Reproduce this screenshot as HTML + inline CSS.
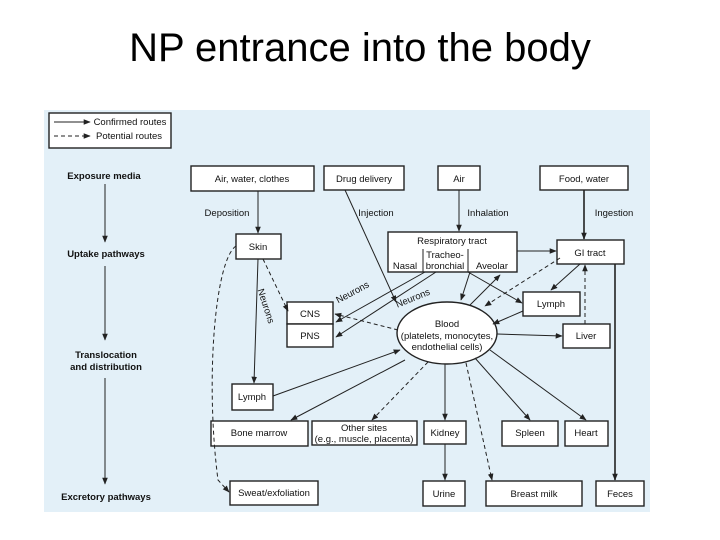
<!DOCTYPE html>
<html><head><meta charset="utf-8"><style>
html,body{margin:0;padding:0;background:#fff;}
svg{display:block;}
text{font-family:"Liberation Sans",sans-serif;}
</style></head><body>
<svg width="720" height="540" viewBox="0 0 720 540" xmlns="http://www.w3.org/2000/svg">
<defs>
<marker id="a" viewBox="0 0 10 10" refX="9" refY="5" markerWidth="7" markerHeight="7" orient="auto-start-reverse" markerUnits="userSpaceOnUse"><path d="M0,1 L10,5 L0,9 z" fill="#222"/></marker>
</defs>
<text x="360" y="61" font-size="40" text-anchor="middle" fill="#000">NP entrance into the body</text>
<rect x="44" y="110" width="606" height="402" fill="#e3f0f8"/>
<g font-size="9.5" fill="#111" text-anchor="middle" font-weight="bold">
<rect x="49" y="113" width="122" height="35" fill="#fff" stroke="#222" stroke-width="1.4"/>
<line x1="54" y1="122" x2="90" y2="122" stroke="#222" marker-end="url(#a)"/>
<line x1="54" y1="136" x2="90" y2="136" stroke="#222" stroke-dasharray="4,3" marker-end="url(#a)"/>
<text x="130" y="125" font-weight="normal">Confirmed routes</text>
<text x="129" y="139" font-weight="normal">Potential routes</text>
<text x="104" y="179" text-anchor="middle">Exposure media</text>
<line x1="105" y1="184" x2="105" y2="242" stroke="#222" marker-end="url(#a)"/>
<text x="106" y="257">Uptake pathways</text>
<line x1="105" y1="266" x2="105" y2="340" stroke="#222" marker-end="url(#a)"/>
<text x="106" y="358">Translocation</text>
<text x="106" y="370">and distribution</text>
<line x1="105" y1="378" x2="105" y2="484" stroke="#222" marker-end="url(#a)"/>
<text x="106" y="500">Excretory pathways</text>
<g fill="#fff" stroke="#222" stroke-width="1.4">
<rect x="191" y="166" width="123" height="25"/>
<rect x="324" y="166" width="80" height="24"/>
<rect x="438" y="166" width="42" height="24"/>
<rect x="540" y="166" width="88" height="24"/>
<rect x="236" y="234" width="45" height="25"/>
<rect x="388" y="232" width="129" height="40"/>
<rect x="557" y="240" width="67" height="24"/>
<rect x="523" y="292" width="57" height="24"/>
<rect x="563" y="324" width="47" height="24"/>
<rect x="287" y="302" width="46" height="22"/>
<rect x="287" y="324" width="46" height="23"/>
<ellipse cx="447" cy="333" rx="50" ry="31"/>
<rect x="232" y="384" width="41" height="26"/>
<rect x="211" y="421" width="97" height="25"/>
<rect x="312" y="421" width="105" height="24"/>
<rect x="424" y="421" width="42" height="23"/>
<rect x="502" y="421" width="56" height="25"/>
<rect x="565" y="421" width="43" height="25"/>
<rect x="230" y="481" width="88" height="24"/>
<rect x="423" y="481" width="42" height="25"/>
<rect x="486" y="481" width="96" height="25"/>
<rect x="596" y="481" width="48" height="25"/>
</g>
<line x1="423" y1="249" x2="423" y2="272" stroke="#222"/>
<line x1="468" y1="249" x2="468" y2="272" stroke="#222"/>
<g font-weight="normal">
<text x="252" y="182">Air, water, clothes</text>
<text x="364" y="182">Drug delivery</text>
<text x="459" y="182">Air</text>
<text x="584" y="182">Food, water</text>
<text x="258" y="250">Skin</text>
<text x="452" y="244">Respiratory tract</text>
<text x="405" y="269">Nasal</text>
<text x="445" y="258">Tracheo-</text>
<text x="445" y="269">bronchial</text>
<text x="492" y="269">Aveolar</text>
<text x="590" y="256">GI tract</text>
<text x="551" y="307">Lymph</text>
<text x="586" y="339">Liver</text>
<text x="310" y="317">CNS</text>
<text x="310" y="339">PNS</text>
<text x="447" y="327">Blood</text>
<text x="447" y="339">(platelets, monocytes,</text>
<text x="447" y="350">endothelial cells)</text>
<text x="252" y="400">Lymph</text>
<text x="259" y="436">Bone marrow</text>
<text x="364" y="431">Other sites</text>
<text x="364" y="442">(e.g., muscle, placenta)</text>
<text x="445" y="436">Kidney</text>
<text x="530" y="436">Spleen</text>
<text x="586" y="436">Heart</text>
<text x="274" y="496">Sweat/exfoliation</text>
<text x="444" y="497">Urine</text>
<text x="534" y="497">Breast milk</text>
<text x="620" y="497">Feces</text>
<text x="227" y="216">Deposition</text>
<text x="376" y="216">Injection</text>
<text x="488" y="216">Inhalation</text>
<text x="614" y="216">Ingestion</text>
<text x="0" y="0" transform="translate(354,295) rotate(-28)">Neurons</text>
<text x="0" y="0" transform="translate(414,301) rotate(-22)">Neurons</text>
<text x="0" y="0" transform="translate(263,307) rotate(72)">Neurons</text>
</g>
</g>
<g stroke="#222" stroke-width="1" fill="none">
<line x1="258" y1="191" x2="258" y2="233" marker-end="url(#a)"/>
<line x1="459" y1="190" x2="459" y2="231" marker-end="url(#a)"/>
<line x1="584" y1="190" x2="584" y2="239" marker-end="url(#a)" stroke-width="1.6"/>
<line x1="345" y1="190" x2="396" y2="302" marker-end="url(#a)"/>
<line x1="517" y1="251" x2="556" y2="251" marker-end="url(#a)"/>
<line x1="615" y1="264" x2="615" y2="480" marker-end="url(#a)" stroke-width="1.6"/>
<line x1="580" y1="264" x2="551" y2="290" marker-end="url(#a)"/>
<line x1="468" y1="272" x2="522" y2="303" marker-end="url(#a)"/>
<line x1="523" y1="311" x2="493" y2="324" marker-end="url(#a)"/>
<line x1="497" y1="334" x2="562" y2="336" marker-end="url(#a)"/>
<line x1="425" y1="272" x2="336" y2="322" marker-end="url(#a)"/>
<line x1="436" y1="272" x2="336" y2="337" marker-end="url(#a)"/>
<line x1="470" y1="272" x2="461" y2="300" marker-end="url(#a)"/>
<line x1="470" y1="305" x2="500" y2="275" marker-end="url(#a)"/>
<line x1="258" y1="259" x2="254" y2="383" marker-end="url(#a)"/>
<line x1="273" y1="396" x2="400" y2="350" marker-end="url(#a)"/>
<line x1="405" y1="360" x2="291" y2="420" marker-end="url(#a)"/>
<line x1="445" y1="364" x2="445" y2="420" marker-end="url(#a)"/>
<line x1="475" y1="358" x2="530" y2="420" marker-end="url(#a)"/>
<line x1="490" y1="350" x2="586" y2="420" marker-end="url(#a)"/>
<line x1="445" y1="444" x2="445" y2="480" marker-end="url(#a)"/>
</g>
<g stroke="#222" stroke-width="1" fill="none" stroke-dasharray="4,3">
<path d="M236 246 C215 260 205 380 218 480 L229 492" marker-end="url(#a)"/>
<line x1="263" y1="259" x2="288" y2="311" marker-end="url(#a)"/>
<line x1="398" y1="330" x2="335" y2="314" marker-end="url(#a)"/>
<line x1="560" y1="258" x2="485" y2="306" marker-end="url(#a)"/>
<line x1="585" y1="324" x2="585" y2="265" marker-end="url(#a)"/>
<line x1="428" y1="362" x2="372" y2="420" marker-end="url(#a)"/>
<line x1="466" y1="363" x2="492" y2="480" marker-end="url(#a)"/>
</g>
</svg>
</body></html>
